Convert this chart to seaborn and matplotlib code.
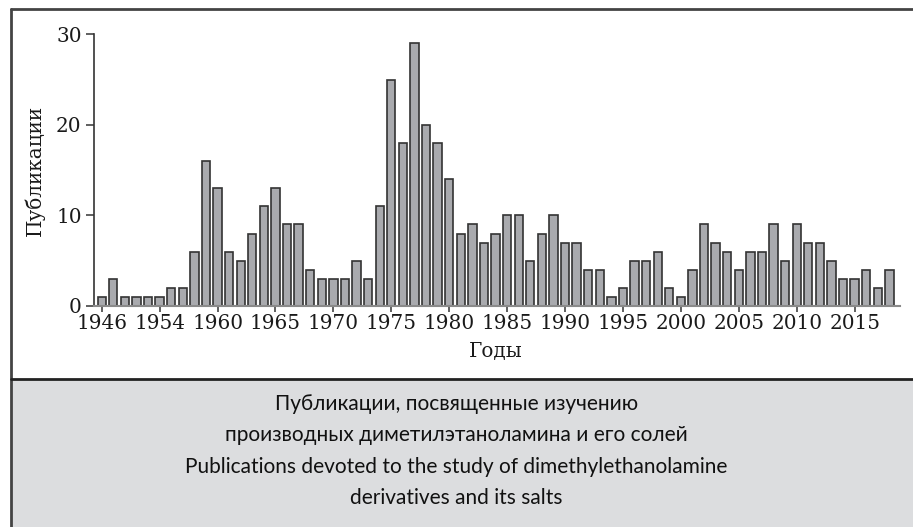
import numpy as np
import pandas as pd
import seaborn as sns
import matplotlib.pyplot as plt
from matplotlib.patches import Rectangle
from matplotlib.lines import Line2D

# publications per bar (69 bars)
counts = [1, 3, 1, 1, 1, 1, 2, 2, 6, 16,
          13, 6, 5, 8, 11, 13, 9, 9, 4, 3,
          3, 3, 5, 3, 11, 25, 18, 29, 20, 18,
          14, 8, 9, 7, 8, 10, 10, 5, 8, 10,
          7, 7, 4, 4, 1, 2, 5, 5, 6, 2,
          1, 4, 9, 7, 6, 4, 6, 6, 9, 5,
          9, 7, 7, 5, 3, 3, 4, 2, 4]
# labels as printed under every fifth bar
tick_labels = ['1946', '1954', '1960', '1965', '1970', '1975', '1980',
               '1985', '1990', '1995', '2000', '2005', '2010', '2015']
y_ticks = [0, 10, 20, 30]

caption = ("Публикации, посвященные изучению\n"
           "производных диметилэтаноламина и его солей\n"
           "Publications devoted to the study of dimethylethanolamine\n"
           "derivatives and its salts")

df = pd.DataFrame({'bar': np.arange(len(counts)), 'count': counts})

sns.set_style("ticks")
plt.rcParams['font.family'] = ['DejaVu Serif']

fig = plt.figure(figsize=(9.13, 5.27), dpi=100)

# grey caption panel and frame lines
fig.add_artist(Rectangle((0.012, 0), 0.988, 0.2808, transform=fig.transFigure,
                         facecolor='#dcdddf', edgecolor='none', zorder=0))
fig.add_artist(Line2D([0.012, 1], [0.9829, 0.9829], transform=fig.transFigure,
                      color='#444444', lw=2))
fig.add_artist(Line2D([0.012, 0.012], [0, 0.9829], transform=fig.transFigure,
                      color='#444444', lw=2))
fig.add_artist(Line2D([0.012, 1], [0.2808, 0.2808], transform=fig.transFigure,
                      color='#222222', lw=2))

ax = fig.add_axes([0.103, 0.4194, 0.8828, 0.5155])
sns.barplot(data=df, x='bar', y='count', color='#a9aaae', saturation=1,
            width=0.72, edgecolor='#333333', linewidth=1.2, ax=ax)

ax.set_xlim(-0.66, len(counts) - 1 + 0.92)
ax.set_ylim(0, 30)
ax.set_yticks(y_ticks)
ax.set_xticks(np.arange(0, len(counts), 5))
ax.set_xticklabels(tick_labels)

ax.tick_params(axis='y', length=6, width=1.2, color='#444444', pad=3,
               labelsize=14.4, labelcolor='#1a1a1a')
ax.tick_params(axis='x', length=4, width=1.2, color='#444444', pad=1.5,
               labelsize=14.4, labelcolor='#1a1a1a')

sns.despine(ax=ax)
ax.spines['left'].set_color('#333333')
ax.spines['left'].set_linewidth(1.2)
ax.spines['bottom'].set_color('#8a8a8a')
ax.spines['bottom'].set_linewidth(1.5)

ax.set_xlabel('Годы', fontsize=14.4, color='#1a1a1a')
ax.xaxis.set_label_coords(0.499, -0.169)
ax.xaxis.label.set_va('center')
ax.set_ylabel('Публикации', fontsize=14.4, color='#1a1a1a')
ax.yaxis.set_label_coords(-0.0732, 0.5)
ax.yaxis.label.set_va('center')

fig.text(0.5, 0.1442, caption, ha='center', va='center', fontsize=15,
         family=['Lato', 'DejaVu Sans'], color='#111111', linespacing=1.7)

fig.savefig('out.png', dpi=100)
